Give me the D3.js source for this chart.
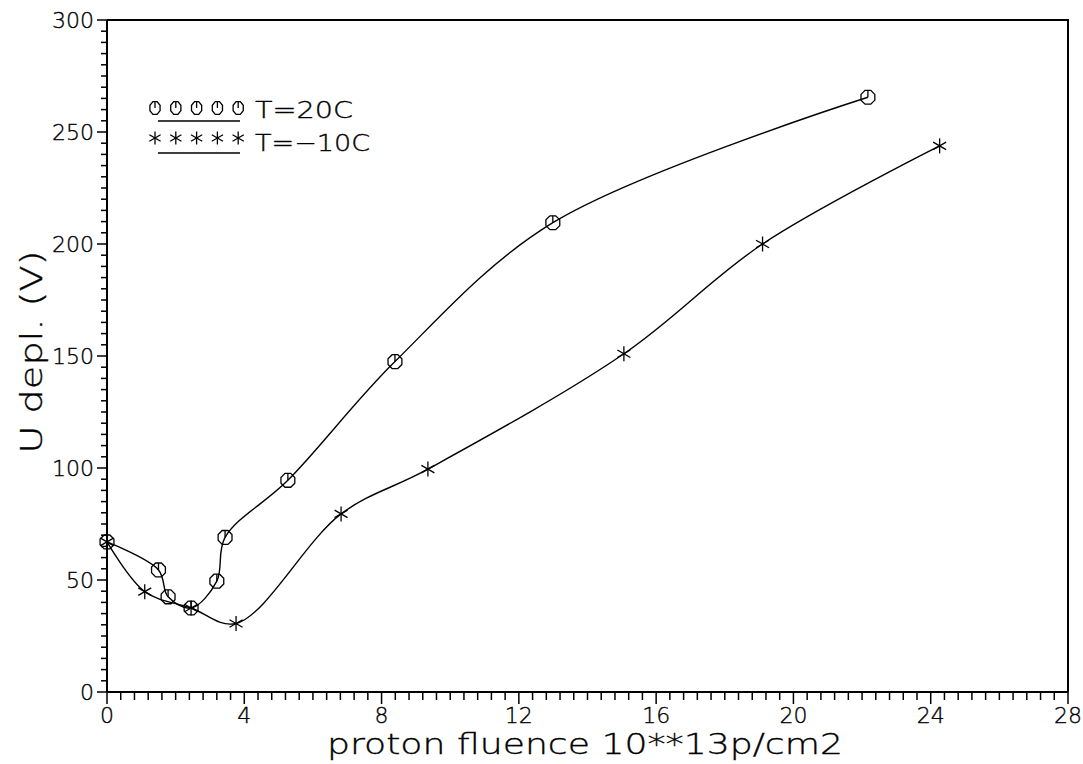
<!DOCTYPE html>
<html>
<head>
<meta charset="utf-8">
<script src="https://cdn.jsdelivr.net/npm/d3@7"></script>
<style>
  html, body { margin: 0; padding: 0; background: #fff; }
  svg { display: block; }
  text { font-family: "DejaVu Sans ExtraLight", "DejaVu Sans", sans-serif; font-weight: 200; fill: #000; stroke: #000; stroke-width: 0.35; }
</style>
</head>
<body>
<svg id="chart" width="1083" height="764"></svg>
<script>
// Depletion voltage versus proton fluence, two annealing temperatures
const fluence20 = [0, 1.5, 1.78, 2.45, 3.2, 3.44, 5.27, 8.39, 12.99, 22.17];
const udepl20   = [67, 54.5, 42.5, 37.5, 49.5, 69, 94.5, 147.5, 209.5, 265.5];

const fluenceM10 = [0, 1.1, 2.45, 3.76, 6.82, 9.35, 15.06, 19.1, 24.26];
const udeplM10   = [67, 44.8, 37.5, 30.6, 79.5, 99.5, 151, 200, 243.8];

const xTicks = [0, 4, 8, 12, 16, 20, 24, 28];
const yTicks = [0, 50, 100, 150, 200, 250, 300];

const legendLabels = ["T=20C", "T=\u221210C"];

const svg = d3.select("#chart");
const W = 1083, H = 764;
const margin = { left: 107, right: W - 1068, top: 20, bottom: H - 692 };

const x = d3.scaleLinear().domain([0, 28]).range([margin.left, W - margin.right]);
const y = d3.scaleLinear().domain([0, 300]).range([H - margin.bottom, margin.top]);

// frame: top and right edges
svg.append("path")
  .attr("d", `M${x(0)},${y(300)}H${x(28)}V${y(0)}`)
  .attr("fill", "none").attr("stroke", "#000").attr("stroke-width", 2);

// x axis with minor ticks every 0.4
const xMinor = d3.range(0, 28.001, 0.4).map(v => +v.toFixed(1));
const xAxisG = svg.append("g");
xAxisG.append("line")
  .attr("x1", x(0)).attr("x2", x(28)).attr("y1", y(0)).attr("y2", y(0))
  .attr("stroke", "#000").attr("stroke-width", 2);
xAxisG.selectAll("line.minor").data(xMinor).join("line")
  .attr("class", "minor")
  .attr("x1", d => x(d)).attr("x2", d => x(d))
  .attr("y1", y(0)).attr("y2", d => y(0) + (xTicks.includes(d) ? 12 : 8))
  .attr("stroke", "#000").attr("stroke-width", 1.5);
xAxisG.selectAll("text").data(xTicks).join("text")
  .attr("x", d => x(d)).attr("y", y(0) + 31)
  .attr("text-anchor", "middle")
  .attr("font-size", 22)
  .text(d => d);

// y axis with minor ticks every 5
const yMinor = d3.range(0, 300.001, 5);
const yAxisG = svg.append("g");
yAxisG.append("line")
  .attr("x1", x(0)).attr("x2", x(0)).attr("y1", y(0)).attr("y2", y(300))
  .attr("stroke", "#000").attr("stroke-width", 2);
yAxisG.selectAll("line.minor").data(yMinor).join("line")
  .attr("class", "minor")
  .attr("y1", d => y(d)).attr("y2", d => y(d))
  .attr("x1", x(0)).attr("x2", d => x(0) - (yTicks.includes(d) ? 10 : 6))
  .attr("stroke", "#000").attr("stroke-width", 1.5);
yAxisG.selectAll("text").data(yTicks).join("text")
  .attr("x", x(0) - 13).attr("y", d => y(d) + 8)
  .attr("text-anchor", "end")
  .attr("font-size", 22)
  .text(d => d);

// axis titles
svg.append("text")
  .attr("x", 585).attr("y", 754)
  .attr("text-anchor", "middle")
  .attr("font-size", 29)
  .attr("textLength", 516).attr("lengthAdjust", "spacingAndGlyphs")
  .text("proton fluence 10**13p/cm2");
svg.append("text")
  .attr("transform", "translate(42,352) rotate(-90)")
  .attr("text-anchor", "middle")
  .attr("font-size", 30)
  .attr("textLength", 203).attr("lengthAdjust", "spacingAndGlyphs")
  .text("U depl. (V)");

// markers
function octagon(g, cx, cy, rx, ry) {
  const pts = d3.range(8).map(i => {
    const a = Math.PI / 8 + i * Math.PI / 4;
    return [cx + rx * Math.cos(a), cy + ry * Math.sin(a)];
  });
  g.append("path")
    .attr("d", "M" + pts.join("L") + "Z")
    .attr("fill", "none").attr("stroke", "#000").attr("stroke-width", 1.3);
  g.append("line")
    .attr("x1", cx).attr("x2", cx).attr("y1", cy - ry * Math.cos(Math.PI / 8)).attr("y2", cy)
    .attr("stroke", "#000").attr("stroke-width", 1.3);
}
function star(g, cx, cy, r) {
  [90, 30, 150].forEach(deg => {
    const a = deg * Math.PI / 180;
    g.append("line")
      .attr("x1", cx - r * Math.cos(a)).attr("y1", cy - r * Math.sin(a))
      .attr("x2", cx + r * Math.cos(a)).attr("y2", cy + r * Math.sin(a))
      .attr("stroke", "#000").attr("stroke-width", 1.3);
  });
}

const line = d3.line()
  .x(d => x(d[0])).y(d => y(d[1]))
  .curve(d3.curveCatmullRom.alpha(0.5));

const pts20 = fluence20.map((v, i) => [v, udepl20[i]]);
const ptsM10 = fluenceM10.map((v, i) => [v, udeplM10[i]]);

svg.append("path").attr("d", line(pts20))
  .attr("fill", "none").attr("stroke", "#000").attr("stroke-width", 1.4);
svg.append("path").attr("d", line(ptsM10))
  .attr("fill", "none").attr("stroke", "#000").attr("stroke-width", 1.4);

const mk20 = svg.append("g");
pts20.forEach(p => octagon(mk20, x(p[0]), y(p[1]), 7.5, 7.5));
const mkM10 = svg.append("g");
ptsM10.forEach(p => star(mkM10, x(p[0]), y(p[1]), 7.5));

// legend
const leg = svg.append("g");
const legX = d3.range(5).map(i => 155 + i * 20.8);
legX.forEach(cx => octagon(leg, cx, 108, 5.5, 7));
legX.forEach(cx => star(leg, cx, 138, 6.5));
[121, 153].forEach(yy => leg.append("line")
  .attr("x1", 158).attr("x2", 240).attr("y1", yy).attr("y2", yy)
  .attr("stroke", "#000").attr("stroke-width", 1.3));
leg.append("text").attr("x", 255).attr("y", 118).attr("font-size", 23)
  .attr("textLength", 98).attr("lengthAdjust", "spacingAndGlyphs").text(legendLabels[0]);
leg.append("text").attr("x", 255).attr("y", 151).attr("font-size", 23)
  .attr("textLength", 115).attr("lengthAdjust", "spacingAndGlyphs").text(legendLabels[1]);
</script>
</body>
</html>
